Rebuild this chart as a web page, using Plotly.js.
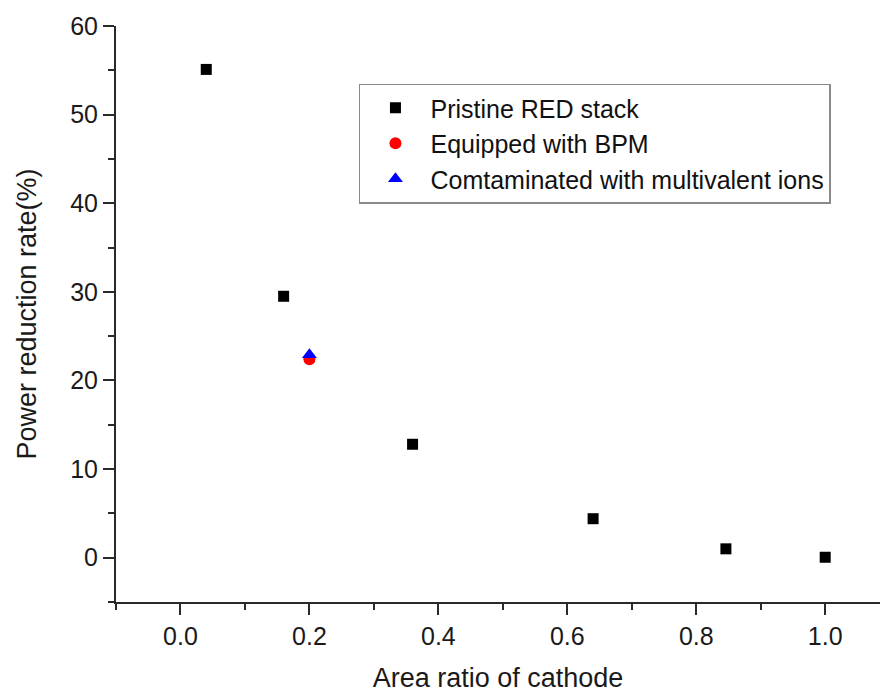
<!DOCTYPE html>
<html>
<head>
<meta charset="utf-8">
<script src="https://cdn.plot.ly/plotly-3.0.1.min.js"></script>
<style>html,body{margin:0;padding:0;background:#fff;}#chart{width:883px;height:693px;}</style>
</head>
<body>
<div id="chart"></div>
<script>
const pristineX = [0.04, 0.16, 0.36, 0.64, 0.846, 1.0];
const pristineY = [55.1, 29.5, 12.8, 4.4, 1.0, 0.05];
const bpmX = [0.2];
const bpmY = [22.4];
const contamX = [0.2];
const contamY = [22.9];
const xTickVals = [0, 0.2, 0.4, 0.6, 0.8, 1.0];
const xTickText = ['0.0', '0.2', '0.4', '0.6', '0.8', '1.0'];
const yTickVals = [0, 10, 20, 30, 40, 50, 60];

const traces = [
  {x: pristineX, y: pristineY, type: 'scatter', mode: 'markers', name: 'Pristine RED stack',
   marker: {symbol: 'square', size: 11, color: '#000000'}},
  {x: bpmX, y: bpmY, type: 'scatter', mode: 'markers', name: 'Equipped with BPM',
   marker: {symbol: 'circle', size: 12, color: '#ff0000'}},
  {x: contamX, y: contamY, type: 'scatter', mode: 'markers', name: 'Comtaminated with multivalent ions',
   marker: {symbol: 'triangle-up', size: 13, color: '#0000ff'}}
];

const fontFam = 'Liberation Sans, Arial, sans-serif';
const axisCol = '#2a2a2a';
const layout = {
  width: 883, height: 693,
  margin: {l: 116, r: 3, t: 26, b: 91},
  paper_bgcolor: '#ffffff', plot_bgcolor: '#ffffff',
  font: {family: fontFam, size: 24, color: '#1a1a1a'},
  showlegend: true,
  legend: {x: 0.318, y: 0.9, xanchor: 'left', yanchor: 'top', itemwidth: 60,
           bordercolor: '#8a8a8a', borderwidth: 1.5, bgcolor: '#ffffff',
           font: {family: fontFam, size: 25, color: '#111111'}},
  xaxis: {range: [-0.1, 1.085], tickvals: xTickVals, ticktext: xTickText,
          showgrid: false, zeroline: false, showline: true, linecolor: axisCol, linewidth: 2,
          ticks: 'outside', ticklen: 11, tickwidth: 2, tickcolor: axisCol,
          minor: {tickvals: [-0.1, 0.1, 0.3, 0.5, 0.7, 0.9], ticks: 'outside', ticklen: 6, tickwidth: 2, tickcolor: axisCol, showgrid: false},
          tickfont: {size: 25, color: '#1a1a1a'},
          title: {text: 'Area ratio of cathode', font: {size: 27, color: '#1a1a1a'}, standoff: 25}},
  yaxis: {range: [-5, 60], tickvals: yTickVals,
          showgrid: false, zeroline: false, showline: true, linecolor: axisCol, linewidth: 2,
          ticks: 'outside', ticklen: 11, tickwidth: 2, tickcolor: axisCol,
          minor: {tickvals: [-5, 5, 15, 25, 35, 45, 55], ticks: 'outside', ticklen: 6, tickwidth: 2, tickcolor: axisCol, showgrid: false},
          tickfont: {size: 25, color: '#1a1a1a'},
          title: {text: 'Power reduction rate(%)', font: {size: 27, color: '#1a1a1a'}, standoff: 26}}
};

Plotly.newPlot('chart', traces, layout, {displayModeBar: false, staticPlot: true});
</script>
</body>
</html>
